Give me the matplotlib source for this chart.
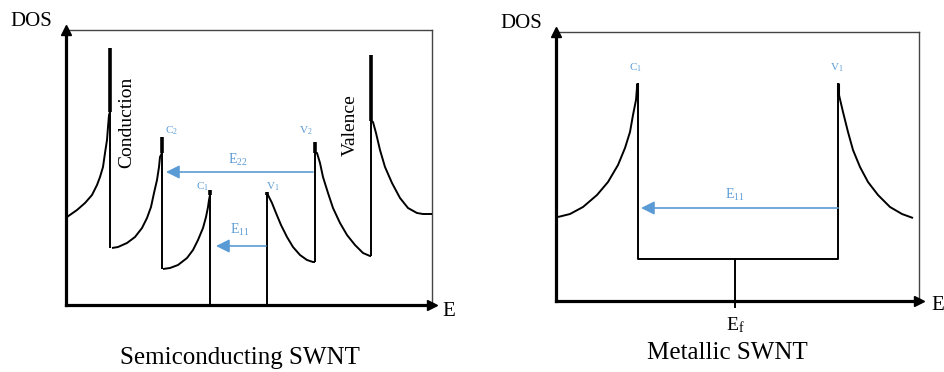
import numpy as np
import matplotlib.pyplot as plt

plt.rcParams["font.family"] = ["Liberation Serif", "DejaVu Serif"]
plt.rcParams["mathtext.fontset"] = "custom"
plt.rcParams["mathtext.rm"] = "Liberation Serif"

BLUE = "#5b9bd5"

# ===== Semiconducting tube: DOS branches (E, DOS), arbitrary units =====
semi_c3_E = [1, 11, 19, 26, 31, 34, 37, 39, 41, 42, 43, 44]
semi_c3_D = [88, 95, 102, 110, 120, 128, 138, 152, 165, 178, 190, 193]
semi_c2_E = [46, 52, 61, 69, 76, 81, 85, 88, 91, 93, 94, 96]
semi_c2_D = [57, 58, 62, 68, 77, 87, 98, 112, 125, 138, 148, 152]
semi_c1_E = [97, 104, 112, 121, 127, 132, 137, 140, 142, 143, 144]
semi_c1_D = [36, 37, 40, 47, 55, 65, 77, 88, 98, 105, 110]
semi_v1_E = [201, 202, 206, 210, 215, 221, 227, 234, 241, 247, 249]
semi_v1_D = [110, 110, 102, 92, 80, 68, 58, 50, 45, 43, 43]
semi_v2_E = [249, 251, 254, 257, 262, 267, 274, 281, 289, 297, 304, 305]
semi_v2_D = [152, 152, 142, 128, 112, 97, 82, 70, 60, 52, 49, 49]
semi_v3_E = [305, 307, 310, 314, 319, 326, 334, 342, 351, 357, 366]
semi_v3_D = [184, 183, 172, 155, 138, 122, 107, 97, 92, 91, 91]

# band edges: position, bottom of the edge, top of the van Hove spike
semi_edge_E = [44, 96, 144, 201, 249, 305]
semi_edge_lo = [57, 36, 0, 0, 43, 49]
semi_edge_hi = [257, 168, 115, 113, 163, 250]
# thick upper part of each spike starts here
semi_spike_lo = [193, 152, 110, 110, 152, 184]

# ===== Metallic tube =====
met_c1_E = [2, 14, 27, 41, 52, 62, 69, 74, 77, 80, 81]
met_c1_D = [84, 87, 94, 106, 119, 136, 153, 169, 186, 201, 213]
met_v1_E = [282, 283, 287, 292, 297, 304, 312, 322, 334, 346, 357]
met_v1_D = [213, 206, 189, 169, 151, 134, 119, 106, 94, 87, 83]
met_gap_E = [82, 82, 282, 282]
met_gap_D = [218, 42, 42, 218]
met_spike_E = [81, 282]
met_spike_lo = [205, 205]
met_spike_hi = [218, 218]
E_fermi = 179

fig = plt.figure(figsize=(9.44, 3.72), dpi=100)
ax1 = fig.add_axes([66 / 944, 67 / 372, 366 / 944, 275 / 372])
ax2 = fig.add_axes([556 / 944, 71 / 372, 363 / 944, 269 / 372])
ax1.set_xlim(0, 366)
ax1.set_ylim(0, 275)
ax2.set_xlim(0, 363)
ax2.set_ylim(0, 269)


def style_frame(ax):
    ax.set_xticks([])
    ax.set_yticks([])
    for s in ("left", "bottom"):
        ax.spines[s].set_linewidth(2.3)
        ax.spines[s].set_color("black")
    for s in ("top", "right"):
        ax.spines[s].set_linewidth(1.0)
        ax.spines[s].set_color("#444444")
    x0, x1 = ax.get_xlim()
    y0, y1 = ax.get_ylim()
    ax.plot([x1], [y0], marker=">", ms=7, color="black", clip_on=False, zorder=5)
    ax.plot([x0], [y1], marker="^", ms=7, color="black", clip_on=False, zorder=5)
    ax.text(-0.095, 1.03, "DOS", transform=ax.transAxes, fontsize=15,
            ha="center", va="center")


def draw_line(ax, E, D, lw=1.4):
    ax.plot(E, D, color="black", lw=lw, solid_joinstyle="round",
            solid_capstyle="butt", zorder=3)


def blue_arrow(ax, x_from, x_to, y):
    ax.annotate("", xy=(x_to, y), xytext=(x_from, y),
                arrowprops=dict(arrowstyle="-|>", color=BLUE, lw=1.2,
                                mutation_scale=20, shrinkA=0, shrinkB=0))


# ---- Semiconducting SWNT ----
style_frame(ax1)
for E, D in [(semi_c3_E, semi_c3_D), (semi_c2_E, semi_c2_D),
             (semi_c1_E, semi_c1_D), (semi_v1_E, semi_v1_D),
             (semi_v2_E, semi_v2_D), (semi_v3_E, semi_v3_D)]:
    draw_line(ax1, E, D)
for e, lo, hi, s in zip(semi_edge_E, semi_edge_lo, semi_edge_hi, semi_spike_lo):
    draw_line(ax1, [e, e], [lo, hi])
    draw_line(ax1, [e, e], [s, hi], lw=2.6)

ax1.text(61, 183, "Conduction", rotation=90, fontsize=14, ha="center", va="center")
ax1.text(284, 180, "Valence", rotation=90, fontsize=14, ha="center", va="center")
ax1.text(105, 174, r"$\mathregular{C_2}$", color=BLUE, fontsize=8, ha="center", va="center")
ax1.text(240, 174, r"$\mathregular{V_2}$", color=BLUE, fontsize=8, ha="center", va="center")
ax1.text(136, 118, r"$\mathregular{C_1}$", color=BLUE, fontsize=8, ha="center", va="center")
ax1.text(207, 118, r"$\mathregular{V_1}$", color=BLUE, fontsize=8, ha="center", va="center")
ax1.text(172, 145, r"$\mathregular{E_{22}}$", color=BLUE, fontsize=10, ha="center", va="center")
ax1.text(174, 75, r"$\mathregular{E_{11}}$", color=BLUE, fontsize=10, ha="center", va="center")
blue_arrow(ax1, 247, 100, 133)
blue_arrow(ax1, 200, 150, 59)
ax1.text(1.046, -0.025, "E", transform=ax1.transAxes, fontsize=15, ha="center", va="center")

# ---- Metallic SWNT ----
style_frame(ax2)
draw_line(ax2, met_c1_E, met_c1_D)
draw_line(ax2, met_v1_E, met_v1_D)
draw_line(ax2, met_gap_E, met_gap_D)
for e, lo, hi in zip(met_spike_E, met_spike_lo, met_spike_hi):
    draw_line(ax2, [e, e], [lo, hi], lw=2.2)
ax2.plot([E_fermi, E_fermi], [42, -6], color="black", lw=1.4, clip_on=False, zorder=3)
ax2.text(E_fermi, -24, r"$\mathregular{E_f}$", fontsize=14, ha="center", va="center")

ax2.text(79, 233, r"$\mathregular{C_1}$", color=BLUE, fontsize=8, ha="center", va="center")
ax2.text(281, 233, r"$\mathregular{V_1}$", color=BLUE, fontsize=8, ha="center", va="center")
ax2.text(179, 106, r"$\mathregular{E_{11}}$", color=BLUE, fontsize=10, ha="center", va="center")
blue_arrow(ax2, 282, 85, 93)
ax2.text(1.052, -0.015, "E", transform=ax2.transAxes, fontsize=15, ha="center", va="center")

fig.text(240 / 944, 1 - 358 / 372, "Semiconducting SWNT", fontsize=18, ha="center", va="center")
fig.text(727 / 944, 1 - 353 / 372, "Metallic SWNT", fontsize=18, ha="center", va="center")

fig.savefig("out.png", dpi=100, facecolor="white")
